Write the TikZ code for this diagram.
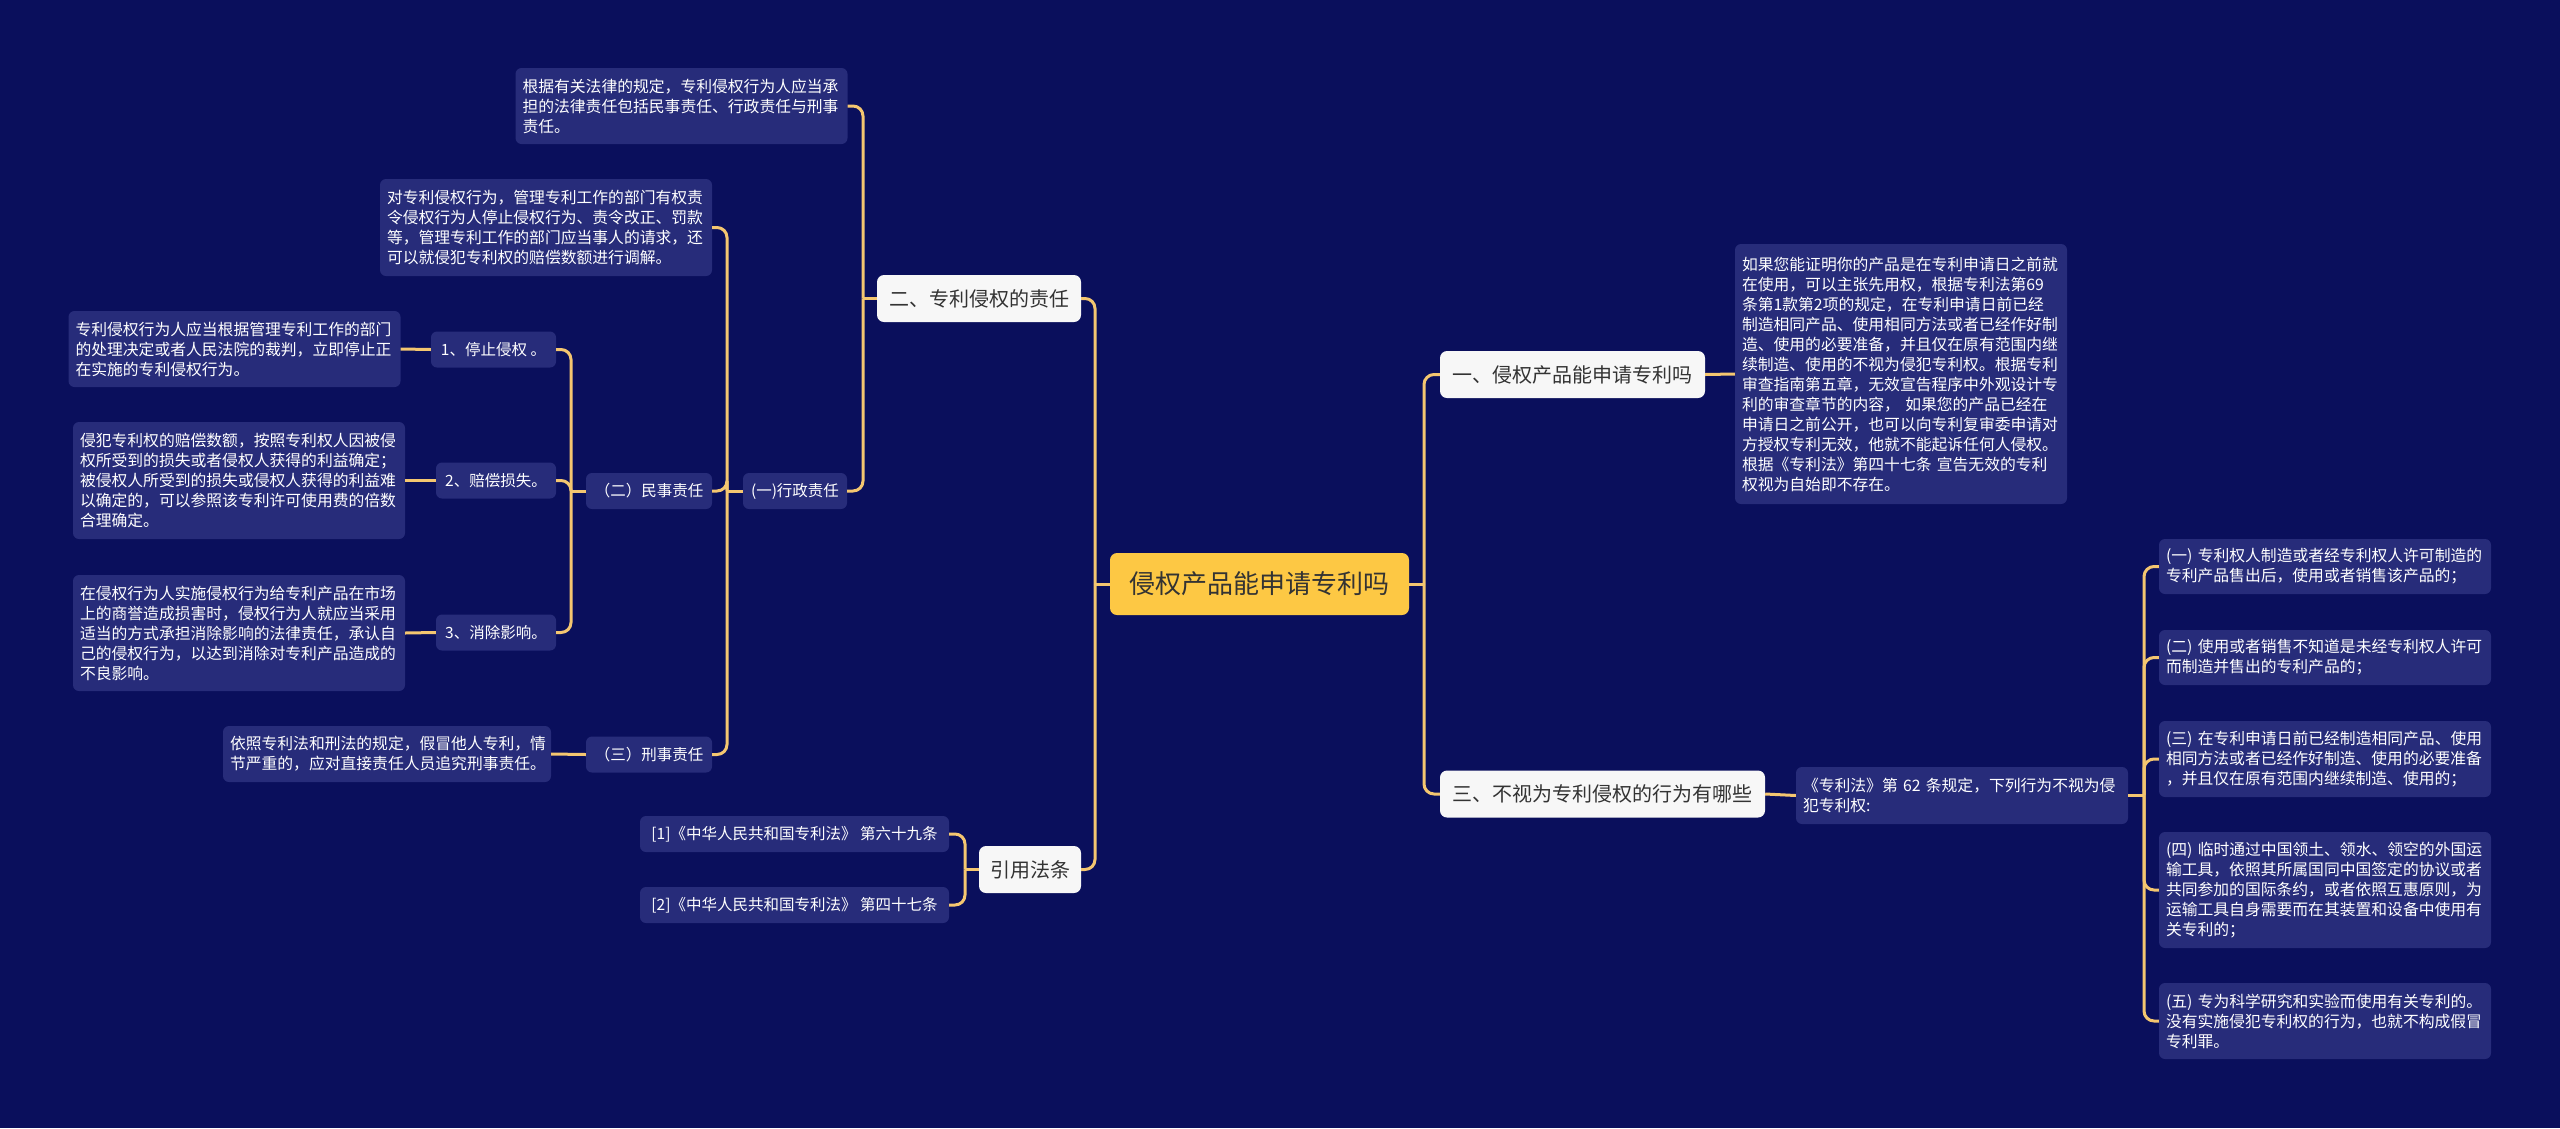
\documentclass[tikz,border=0pt]{standalone}
\usepackage{fontspec}
\setmainfont{Noto Sans CJK SC}
\definecolor{bgc}{HTML}{0A0F5C}
\definecolor{leafc}{HTML}{272C7A}
\definecolor{linec}{HTML}{F4C670}
\definecolor{rootc}{HTML}{FDC844}
\definecolor{topicc}{HTML}{F7F7F7}
\definecolor{darktext}{HTML}{333333}
\begin{document}
\begin{tikzpicture}[x=1pt,y=-1pt,
  leaf/.style={fill=leafc, rounded corners=6pt, text=white, font=\fontsize{15.8}{20}\selectfont, align=left, inner xsep=7pt, inner ysep=0pt, text width=318pt},
  mid/.style={fill=leafc, rounded corners=6pt, text=white, font=\fontsize{15.5}{20}\selectfont, align=center, inner sep=0pt, minimum height=36pt},
  topic/.style={fill=topicc, rounded corners=7pt, text=darktext, font=\fontsize{20}{24}\selectfont, inner sep=0pt, minimum height=47pt},
  rootbox/.style={fill=rootc, rounded corners=7pt, text=darktext, font=\fontsize{26}{30}\selectfont, inner sep=0pt, minimum height=62pt},
  link/.style={draw=linec, line width=3pt, rounded corners=10pt}]
\fill[bgc] (0,0) rectangle (2560,1128);
\useasboundingbox (0,0) rectangle (2560,1128);

% root and topics
\node[rootbox, minimum width=299pt] (root) at (1259.5,584) {侵权产品能申请专利吗};
\node[topic, minimum width=204pt] (l2) at (979,298.5) {二、专利侵权的责任};
\node[topic, minimum width=102pt] (cite) at (1030,869.5) {引用法条};
\node[topic, minimum width=265pt] (r1) at (1572.5,374.5) {一、侵权产品能申请专利吗};
\node[topic, minimum width=325pt] (r3) at (1602.5,794) {三、不视为专利侵权的行为有哪些};

% left middle nodes
\node[mid, minimum width=104pt] (adm) at (795,491) {(一)行政责任};
\node[mid, minimum width=126pt] (civ) at (649,491) {（二）民事责任};
\node[mid, minimum width=126pt] (crim) at (649,754.5) {（三）刑事责任};
\node[mid, minimum width=125pt] (s1) at (493.5,349.5) {1、停止侵权 。};
\node[mid, minimum width=120pt] (s2) at (496,480.5) {2、赔偿损失。};
\node[mid, minimum width=120pt] (s3) at (496,632.5) {3、消除影响。};
\node[mid, minimum width=309pt] (ref1) at (794.5,834) {[1]《中华人民共和国专利法》 第六十九条};
\node[mid, minimum width=309pt] (ref2) at (794.5,905) {[2]《中华人民共和国专利法》 第四十七条};

% left leaves
\node[leaf, minimum height=76pt] (lf6) at (681.5,106) {根据有关法律的规定，专利侵权行为人应当承\\担的法律责任包括民事责任、行政责任与刑事\\责任。};
\node[leaf, minimum height=97pt] (lf8) at (546,227.5) {对专利侵权行为，管理专利工作的部门有权责\\令侵权行为人停止侵权行为、责令改正、罚款\\等，管理专利工作的部门应当事人的请求，还\\可以就侵犯专利权的赔偿数额进行调解。};
\node[leaf, minimum height=76pt] (lf14) at (234.5,349) {专利侵权行为人应当根据管理专利工作的部门\\的处理决定或者人民法院的裁判，立即停止正\\在实施的专利侵权行为。};
\node[leaf, minimum height=117pt] (lf15) at (239,480.5) {侵犯专利权的赔偿数额，按照专利权人因被侵\\权所受到的损失或者侵权人获得的利益确定；\\被侵权人所受到的损失或侵权人获得的利益难\\以确定的，可以参照该专利许可使用费的倍数\\合理确定。};
\node[leaf, minimum height=116pt] (lf16) at (239,633) {在侵权行为人实施侵权行为给专利产品在市场\\上的商誉造成损害时，侵权行为人就应当采用\\适当的方式承担消除影响的法律责任，承认自\\己的侵权行为，以达到消除对专利产品造成的\\不良影响。};
\node[leaf, minimum height=56pt, text width=314pt] (lf17) at (387,754) {依照专利法和刑法的规定，假冒他人专利，情\\节严重的，应对直接责任人员追究刑事责任。};

% right leaves
\node[leaf, minimum height=260pt] (lfR) at (1901,374) {如果您能证明你的产品是在专利申请日之前就\\在使用，可以主张先用权，根据专利法第69\\条第1款第2项的规定，在专利申请日前已经\\制造相同产品、使用相同方法或者已经作好制\\造、使用的必要准备，并且仅在原有范围内继\\续制造、使用的不视为侵犯专利权。根据专利\\审查指南第五章，无效宣告程序中外观设计专\\利的审查章节的内容， 如果您的产品已经在\\申请日之前公开，也可以向专利复审委申请对\\方授权专利无效，他就不能起诉任何人侵权。\\根据《专利法》第四十七条 宣告无效的专利\\权视为自始即不存在。};
\node[leaf, minimum height=57pt] (lf21) at (1962,795.5) {《专利法》第 62 条规定，下列行为不视为侵\\犯专利权:};
\node[leaf, minimum height=55pt] (a1) at (2325,566.5) {(一) 专利权人制造或者经专利权人许可制造的\\专利产品售出后，使用或者销售该产品的；};
\node[leaf, minimum height=55pt] (a2) at (2325,657.5) {(二) 使用或者销售不知道是未经专利权人许可\\而制造并售出的专利产品的；};
\node[leaf, minimum height=76pt] (a3) at (2325,759) {(三) 在专利申请日前已经制造相同产品、使用\\相同方法或者已经作好制造、使用的必要准备\\，并且仅在原有范围内继续制造、使用的；};
\node[leaf, minimum height=116pt] (a4) at (2325,890) {(四) 临时通过中国领土、领水、领空的外国运\\输工具，依照其所属国同中国签定的协议或者\\共同参加的国际条约，或者依照互惠原则，为\\运输工具自身需要而在其装置和设备中使用有\\关专利的；};
\node[leaf, minimum height=76pt] (a5) at (2325,1021) {(五) 专为科学研究和实验而使用有关专利的。\\没有实施侵犯专利权的行为，也就不构成假冒\\专利罪。};

% junction points
\coordinate (jR) at (1424,584);
\coordinate (jL) at (1095,584);
\coordinate (j2) at (863,298.5);
\coordinate (j3) at (727,491);
\coordinate (j4) at (571,491);
\coordinate (j5) at (965,869.5);
\coordinate (j6) at (2144,795.5);

% connectors
\draw[link] (root.east) -- (jR);
\draw[link] (jR) |- (r1.west);
\draw[link] (jR) |- (r3.west);
\draw[link] (root.west) -- (jL);
\draw[link] (jL) |- (l2.east);
\draw[link] (jL) |- (cite.east);
\draw[link] (l2.west) -- (j2);
\draw[link] (j2) |- (lf6.east);
\draw[link] (j2) |- (adm.east);
\draw[link] (adm.west) -- (j3);
\draw[link] (j3) |- (lf8.east);
\draw[link] (j3) |- (civ.east);
\draw[link] (j3) |- (crim.east);
\draw[link] (civ.west) -- (j4);
\draw[link] (j4) |- (s1.east);
\draw[link] (j4) |- (s2.east);
\draw[link] (j4) |- (s3.east);
\draw[link] (s1.west) -- (lf14.east);
\draw[link] (s2.west) -- (lf15.east);
\draw[link] (s3.west) -- (lf16.east);
\draw[link] (crim.west) -- (lf17.east);
\draw[link] (cite.west) -- (j5);
\draw[link] (j5) |- (ref1.east);
\draw[link] (j5) |- (ref2.east);
\draw[link] (r1.east) -- (lfR.west);
\draw[link] (r3.east) -- (lf21.west);
\draw[link] (lf21.east) -- (j6);
\draw[link] (j6) |- (a1.west);
\draw[link] (j6) |- (a2.west);
\draw[link] (j6) |- (a3.west);
\draw[link] (j6) |- (a4.west);
\draw[link] (j6) |- (a5.west);
\end{tikzpicture}
\end{document}
